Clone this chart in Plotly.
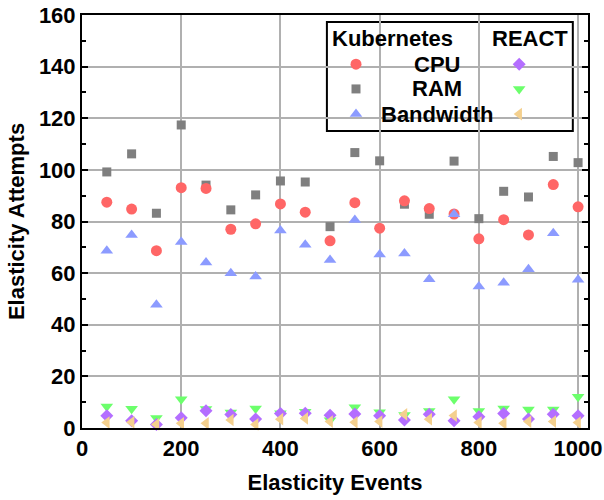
import plotly.graph_objects as go

events = [50, 100, 150, 200, 250, 300, 350, 400, 450, 500,
          550, 600, 650, 700, 750, 800, 850, 900, 950, 1000]

k8s_cpu = [87.5, 84.8, 68.7, 93.1, 92.8, 77.0, 79.1, 86.8, 83.6, 72.5,
           87.3, 77.4, 88.0, 85.0, 82.9, 73.3, 80.7, 74.8, 94.3, 85.7]
k8s_ram = [99.2, 106.2, 83.2, 117.4, 94.1, 84.5, 90.3, 95.7, 95.3, 78.0,
           106.7, 103.5, 86.7, 82.8, 103.4, 81.1, 91.7, 89.5, 105.2, 102.8]
k8s_bw = [68.7, 74.8, 47.7, 72.1, 64.1, 60.0, 58.7, 76.5, 71.0, 65.1,
          80.6, 67.2, 67.6, 57.6, 82.8, 54.8, 56.3, 61.5, 75.4, 57.4]

react_cpu = [4.7, 2.8, 1.4, 4.0, 6.7, 5.2, 3.5, 5.6, 5.7, 4.9,
             5.4, 4.7, 3.1, 5.3, 2.8, 4.4, 5.6, 3.5, 5.3, 4.7]
react_ram = [8.3, 7.5, 3.9, 11.1, 7.4, 6.0, 7.6, 5.7, 6.3, 3.0,
             8.0, 6.1, 5.0, 6.6, 11.1, 6.6, 7.6, 7.2, 7.2, 12.1]
react_bw = [2.1, 2.2, 1.4, 1.8, 1.8, 3.1, 1.4, 3.4, 3.7, 2.5,
            2.2, 2.5, 5.3, 3.4, 4.8, 2.1, 1.8, 2.5, 2.5, 2.1]

x_ticks = [0, 200, 400, 600, 800, 1000]
y_ticks = [0, 20, 40, 60, 80, 100, 120, 140, 160]
row_labels = ["CPU", "RAM", "Bandwidth"]
group_labels = ["Kubernetes", "REACT"]

C_RED = "#FF6666"
C_GRAY = "#7F7F7F"
C_BLUE = "#8C9BFF"
C_PURPLE = "#B46EFF"
C_GREEN = "#6CFF6C"
C_TAN = "#F4D08E"

FONT = "Liberation Sans, Arial, sans-serif"

series = [
    (k8s_ram, "square", C_GRAY, 9),
    (k8s_cpu, "circle", C_RED, 11),
    (k8s_bw, "triangle-up", C_BLUE, 11),
    (react_ram, "triangle-down", C_GREEN, 11),
    (react_cpu, "diamond", C_PURPLE, 10),
    (react_bw, "triangle-left", C_TAN, 11),
]

fig = go.Figure()
for vals, sym, col, sz in series:
    fig.add_trace(go.Scatter(
        x=events, y=vals, mode="markers",
        marker=dict(symbol=sym, color=col, size=sz, line=dict(width=0)),
        showlegend=False, cliponaxis=False,
    ))

# custom legend box
lx0, lx1, ly0, ly1 = 0.484, 0.970, 0.719, 0.983
fig.add_shape(type="rect", xref="paper", yref="paper",
              x0=lx0, x1=lx1, y0=ly0, y1=ly1,
              line=dict(color="black", width=2), fillcolor="white", layer="between")

# legend keys on an overlay axis in [0,1]
key_x_left = 0.5415
key_x_right = 0.864
row_y = [0.881, 0.821, 0.760]
left_keys = [("circle", C_RED, 11), ("square", C_GRAY, 9), ("triangle-up", C_BLUE, 11)]
right_keys = [("diamond", C_PURPLE, 10), ("triangle-down", C_GREEN, 11), ("triangle-left", C_TAN, 11)]
for (sym, col, sz), yy in zip(left_keys, row_y):
    fig.add_trace(go.Scatter(x=[key_x_left], y=[yy], mode="markers", xaxis="x2", yaxis="y2",
                             marker=dict(symbol=sym, color=col, size=sz), showlegend=False,
                             cliponaxis=False, hoverinfo="skip"))
for (sym, col, sz), yy in zip(right_keys, row_y):
    fig.add_trace(go.Scatter(x=[key_x_right], y=[yy], mode="markers", xaxis="x2", yaxis="y2",
                             marker=dict(symbol=sym, color=col, size=sz), showlegend=False,
                             cliponaxis=False, hoverinfo="skip"))

tfont = dict(family=FONT, size=22, color="black")
fig.add_annotation(x=0.614, y=0.944, xref="paper", yref="paper", text="<b>%s</b>" % group_labels[0],
                   showarrow=False, font=tfont, xanchor="center", yanchor="middle")
fig.add_annotation(x=0.885, y=0.944, xref="paper", yref="paper", text="<b>%s</b>" % group_labels[1],
                   showarrow=False, font=tfont, xanchor="center", yanchor="middle")
for lab, yy in zip(row_labels, row_y):
    fig.add_annotation(x=0.702, y=yy, xref="paper", yref="paper", text="<b>%s</b>" % lab,
                       showarrow=False, font=tfont, xanchor="center", yanchor="middle")

axfont = dict(family=FONT, size=22, color="black")
fig.update_layout(
    width=604, height=500,
    margin=dict(l=82, r=16, t=15, b=72, autoexpand=False),
    paper_bgcolor="white", plot_bgcolor="white",
    font=dict(family=FONT, size=22, color="black"),
    xaxis=dict(
        range=[0, 1020], tickvals=x_ticks, ticktext=["<b>%d</b>" % v for v in x_ticks],
        showgrid=True, gridcolor="#B0B0B0", gridwidth=1.5,
        showline=True, linecolor="black", linewidth=2, mirror=True,
        ticks="", tickfont=axfont, zeroline=False, automargin=False,
        ticklabeloverflow="allow",
        title=dict(text="<b>Elasticity Events</b>", font=axfont, standoff=14),
    ),
    yaxis=dict(
        range=[0, 160], tickvals=y_ticks, ticktext=["<b>%d</b>" % v for v in y_ticks],
        showgrid=True, gridcolor="#B0B0B0", gridwidth=1.5,
        showline=True, linecolor="black", linewidth=2, mirror="ticks",
        ticks="inside", ticklen=6, tickcolor="black", tickwidth=1.5,
        minor=dict(dtick=10, ticks="inside", ticklen=4, tickcolor="black", tickwidth=1.5, showgrid=False),
        tickfont=axfont, zeroline=False, automargin=False,
        ticklabeloverflow="allow",
        title=dict(text="<b>Elasticity Attempts</b>", font=axfont, standoff=8),
    ),
    xaxis2=dict(overlaying="x", range=[0, 1], visible=False, automargin=False),
    yaxis2=dict(overlaying="y", range=[0, 1], visible=False, automargin=False),
)

fig.write_html("out.html", config={"displayModeBar": False},
               post_script="document.body.style.margin='0';")
